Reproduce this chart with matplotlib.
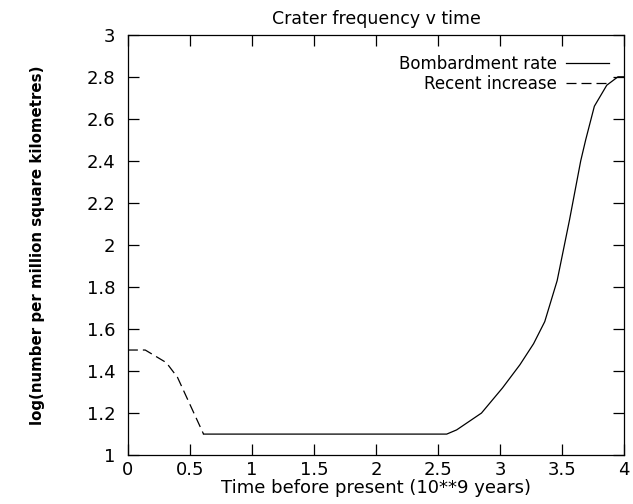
import matplotlib
matplotlib.use('Agg')
import matplotlib.pyplot as plt

plt.rcParams['font.family'] = ['DejaVu Sans']

# Recent increase (dashed)
recent_x = [0.0, 0.14, 0.31, 0.40, 0.61]
recent_y = [1.50, 1.50, 1.44, 1.37, 1.10]

# Bombardment rate (solid)
bomb_x = [0.61, 1.0, 1.5, 2.0, 2.44, 2.57, 2.65, 2.85, 3.02, 3.16, 3.27,
          3.36, 3.46, 3.56, 3.65, 3.69, 3.76, 3.86, 3.95, 4.0]
bomb_y = [1.10, 1.10, 1.10, 1.10, 1.10, 1.10, 1.12, 1.20, 1.32, 1.43, 1.53,
          1.635, 1.83, 2.12, 2.40, 2.50, 2.66, 2.76, 2.80, 2.80]

xticks = [0, 0.5, 1, 1.5, 2, 2.5, 3, 3.5, 4]
xtick_labels = ['0', '0.5', '1', '1.5', '2', '2.5', '3', '3.5', '4']
yticks = [1, 1.2, 1.4, 1.6, 1.8, 2, 2.2, 2.4, 2.6, 2.8, 3]
ytick_labels = ['1', '1.2', '1.4', '1.6', '1.8', '2', '2.2', '2.4', '2.6', '2.8', '3']

fig = plt.figure(figsize=(6.33, 5.04), dpi=100)
ax = fig.add_axes([0.202, 0.097, 0.784, 0.834])

ax.plot(bomb_x, bomb_y, color='black', linewidth=0.9, label='Bombardment rate')
ax.plot(recent_x, recent_y, color='black', linewidth=0.9, linestyle=(0, (8, 4)),
        label='Recent increase')

ax.set_xlim(0, 4)
ax.set_ylim(1, 3)
ax.set_xticks(xticks)
ax.set_xticklabels(xtick_labels)
ax.set_yticks(yticks)
ax.set_yticklabels(ytick_labels)
ax.tick_params(direction='in', length=8, width=0.9, top=True, right=True,
               labelsize=13)
ax.tick_params(axis='x', pad=4)
ax.tick_params(axis='y', pad=9)
for s in ax.spines.values():
    s.set_linewidth(0.9)

ax.set_title('Crater frequency v time', fontsize=12.5, pad=8)
ax.set_xlabel('Time before present (10**9 years)', fontsize=13, labelpad=0)
ax.set_ylabel('log(number per million square kilometres)', fontsize=10.8,
              fontweight='bold', labelpad=30)

ax.legend(loc='upper right', frameon=False, markerfirst=False, fontsize=12,
          handlelength=2.6, handletextpad=0.5, borderaxespad=0.3,
          labelspacing=0.1, bbox_to_anchor=(0.993, 0.98))

plt.savefig('out.png', dpi=100)
